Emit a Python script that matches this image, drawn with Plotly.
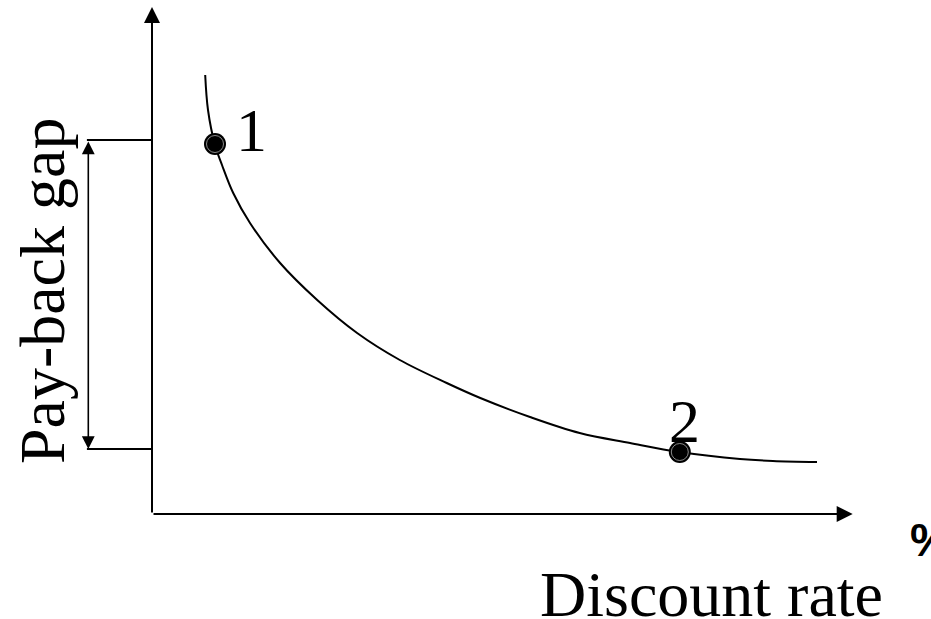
import plotly.graph_objects as go

# Curve (discount rate vs pay-back gap, arbitrary units)
rate = [0.76, 0.80, 0.90, 1.00, 1.16, 1.40, 1.83, 2.36, 2.93, 3.54, 4.21, 4.69,
        5.40, 6.11, 6.83, 7.54, 8.40, 8.87, 9.50]
gap = [8.78, 8.08, 7.38, 6.98, 6.42, 5.82, 5.02, 4.28, 3.62, 3.08, 2.62, 2.32,
       1.94, 1.62, 1.42, 1.24, 1.10, 1.06, 1.04]

point_labels = ["1", "2"]
point_rate = [0.90, 7.54]
point_gap = [7.40, 1.24]

gap_levels = [7.48, 1.30]      # horizontal guide lines
gap_arrow_x = -0.91           # the double arrow's position
guide_left = -0.93            # left end of guide lines
x_axis_end = 10.01
y_axis_end = 10.14

x_title = "Discount rate"
y_title = "Pay-back gap"
unit_label = "%"

serif = "Liberation Serif, Times New Roman, serif"

fig = go.Figure()

fig.add_trace(go.Scatter(x=rate, y=gap, mode="lines", line=dict(color="black", width=2),
                         line_shape="spline", hoverinfo="skip", showlegend=False))

# guide lines from y axis
for g in gap_levels:
    fig.add_trace(go.Scatter(x=[guide_left, 0], y=[g, g], mode="lines",
                             line=dict(color="black", width=2), hoverinfo="skip", showlegend=False))

# points
fig.add_trace(go.Scatter(x=point_rate, y=point_gap, mode="markers",
                         marker=dict(size=22, color="black"), hoverinfo="skip", showlegend=False))
fig.add_trace(go.Scatter(x=point_rate, y=point_gap, mode="markers",
                         marker=dict(size=17, color="black", line=dict(color="#8a8a8a", width=1)),
                         hoverinfo="skip", showlegend=False))

ann = []
# axes with arrowheads
ann.append(dict(x=x_axis_end, y=0, ax=0, ay=0, xref="x", yref="y", axref="x", ayref="y",
                showarrow=True, arrowhead=2, arrowsize=1.6, arrowwidth=2, arrowcolor="black",
                standoff=0, startstandoff=0, text=""))
ann.append(dict(x=0, y=y_axis_end, ax=0, ay=0, xref="x", yref="y", axref="x", ayref="y",
                showarrow=True, arrowhead=2, arrowsize=1.6, arrowwidth=2, arrowcolor="black",
                standoff=0, startstandoff=0, text=""))
# double arrow for the gap
ann.append(dict(x=gap_arrow_x, y=gap_levels[1], ax=gap_arrow_x, ay=gap_levels[0],
                xref="x", yref="y", axref="x", ayref="y",
                showarrow=True, arrowhead=2, startarrowhead=2, arrowside="end+start",
                arrowsize=1.6, startarrowsize=1.6, arrowwidth=1.6, arrowcolor="black",
                standoff=0, startstandoff=0, text=""))

# point labels
label_offsets = [(0.52, 0.28), (0.06, 0.62)]
for lab, px, py, (dx, dy) in zip(point_labels, point_rate, point_gap, label_offsets):
    ann.append(dict(x=px + dx, y=py + dy, xref="x", yref="y", text=lab, showarrow=False,
                    font=dict(family=serif, size=62, color="black"),
                    xanchor="center", yanchor="middle"))

ann.append(dict(x=7.99, y=-1.60, xref="x", yref="y", text=x_title, showarrow=False,
                font=dict(family=serif, size=64, color="black"), xanchor="center", yanchor="middle"))
ann.append(dict(x=-1.57, y=4.46, xref="x", yref="y", text=y_title, showarrow=False, textangle=-90,
                font=dict(family=serif, size=64, color="black"), xanchor="center", yanchor="middle"))
ann.append(dict(x=10.80, y=-0.52, xref="x", yref="y", text="<b>" + unit_label + "</b>", showarrow=False,
                font=dict(family="Liberation Sans, Arial, sans-serif", size=46, color="black"),
                xanchor="left", yanchor="middle"))

fig.update_layout(
    width=931, height=619,
    margin=dict(l=0, r=0, t=0, b=0),
    paper_bgcolor="white", plot_bgcolor="white",
    annotations=ann,
    xaxis=dict(range=[-152 / 70, 779 / 70], visible=False, fixedrange=True),
    yaxis=dict(range=[-105 / 50, 514 / 50], visible=False, fixedrange=True),
    showlegend=False,
)

fig.write_html("out.html", config={"displayModeBar": False},
               post_script="document.body.style.margin='0';document.body.style.overflow='hidden';")
